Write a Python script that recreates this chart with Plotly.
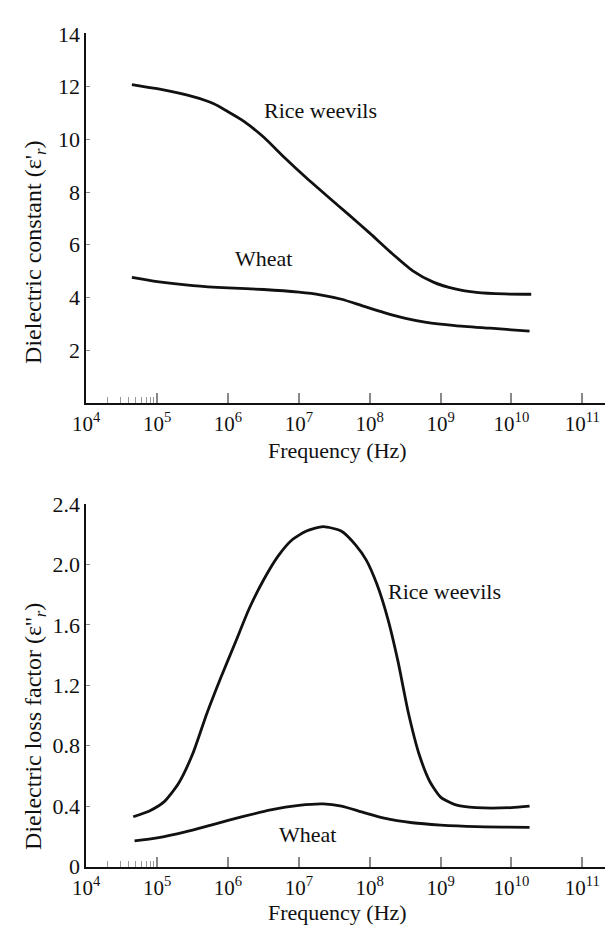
import plotly.graph_objects as go

# ---------------- data ----------------
# Top panel: dielectric constant
rw_const_f = [4.4e4, 1e5, 3.2e5, 6.3e5, 1e6, 1.6e6, 3.2e6, 6.3e6, 1.26e7, 2.5e7, 5e7, 1e8,
              2e8, 4e8, 7.9e8, 1.6e9, 3.2e9, 7.9e9, 1.9e10]
rw_const_v = [12.08, 11.92, 11.62, 11.35, 11.05, 10.72, 10.08, 9.3, 8.55, 7.85, 7.15, 6.44,
              5.7, 5.02, 4.58, 4.32, 4.19, 4.13, 4.12]
wh_const_f = [4.4e4, 1e5, 3.2e5, 1e6, 3.2e6, 1e7, 2e7, 4e7, 7.9e7, 1.6e8, 3.2e8, 6.3e8,
              1.6e9, 5e9, 1.8e10]
wh_const_v = [4.76, 4.6, 4.45, 4.36, 4.3, 4.2, 4.1, 3.93, 3.68, 3.42, 3.2, 3.05,
              2.93, 2.83, 2.72]

# Bottom panel: dielectric loss factor
rw_loss_f = [4.6e4, 7.9e4, 1.26e5, 2e5, 3.2e5, 5e5, 7.9e5, 1.26e6, 2e6, 3.2e6, 5e6, 7.9e6,
             1.26e7, 2.2e7, 4e7, 6.3e7, 8.9e7, 1.26e8, 1.8e8, 2.5e8, 3.5e8, 5e8, 7.1e8,
             1e9, 1.6e9, 3.2e9, 1e10, 1.8e10]
rw_loss_v = [0.33, 0.37, 0.43, 0.55, 0.75, 1.01, 1.25, 1.48, 1.71, 1.9, 2.05, 2.16,
             2.22, 2.25, 2.22, 2.13, 2.03, 1.87, 1.64, 1.36, 1.02, 0.74, 0.56,
             0.46, 0.41, 0.39, 0.39, 0.40]
wh_loss_f = [4.8e4, 1e5, 2.5e5, 6.3e5, 1.6e6, 4e6, 1e7, 2.2e7, 4e7, 7.9e7, 1.6e8, 4e8,
             1e9, 3.2e9, 1.8e10]
wh_loss_v = [0.17, 0.19, 0.23, 0.28, 0.33, 0.375, 0.405, 0.415, 0.40, 0.36, 0.32, 0.29,
             0.275, 0.265, 0.26]

x_tickvals = [1e4, 1e5, 1e6, 1e7, 1e8, 1e9, 1e10, 1e11]
x_ticktext = ["10<sup>4</sup>", "10<sup>5</sup>", "10<sup>6</sup>", "10<sup>7</sup>",
              "10<sup>8</sup>", "10<sup>9</sup>", "10<sup>10</sup>", "10<sup>11</sup>"]
x_minor = [2e4, 3e4, 4e4, 5e4, 6e4, 7e4, 8e4, 9e4]
y1_tickvals = [2, 4, 6, 8, 10, 12, 14]
y1_ticktext = ["2", "4", "6", "8", "10", "12", "14"]
y2_tickvals = [0, 0.4, 0.8, 1.2, 1.6, 2.0, 2.4]
y2_ticktext = ["0", "0.4", "0.8", "1.2", "1.6", "2.0", "2.4"]

# ---------------- figure ----------------
W, H = 605, 937
FONT = "Liberation Serif, Times New Roman, serif"
LINE = dict(color="#111111", width=2.8, shape="spline", smoothing=0.6)

fig = go.Figure()
fig.add_trace(go.Scatter(x=rw_const_f, y=rw_const_v, mode="lines", line=LINE, xaxis="x", yaxis="y", showlegend=False))
fig.add_trace(go.Scatter(x=wh_const_f, y=wh_const_v, mode="lines", line=LINE, xaxis="x", yaxis="y", showlegend=False))
fig.add_trace(go.Scatter(x=rw_loss_f, y=rw_loss_v, mode="lines", line=LINE, xaxis="x2", yaxis="y2", showlegend=False))
fig.add_trace(go.Scatter(x=wh_loss_f, y=wh_loss_v, mode="lines", line=LINE, xaxis="x2", yaxis="y2", showlegend=False))

def px_y(p):
    return (H - p) / H

xdom = [74 / W, 1.0]
xr = [4, 11.32]

def xaxis(anchor):
    return dict(
        type="log", range=xr, domain=xdom, anchor=anchor,
        tickvals=x_tickvals, ticktext=x_ticktext,
        ticks="inside", ticklen=10, tickwidth=1.5, tickcolor="#888888",
        minor=dict(tickvals=x_minor, ticks="inside", ticklen=6, tickwidth=1.2, tickcolor="#999999"),
        showline=True, linecolor="#111111", linewidth=2,
        showgrid=False, zeroline=False,
        tickfont=dict(family=FONT, size=21, color="#111111"),
        ticklabelstandoff=1,
    )

def yaxis(anchor, dom, rng, tv, tt):
    return dict(
        domain=dom, anchor=anchor, range=rng,
        tickvals=tv, ticktext=tt,
        ticks="inside", ticklen=4, tickwidth=1.2, tickcolor="#888888",
        showline=True, linecolor="#111111", linewidth=2,
        showgrid=False, zeroline=False,
        tickfont=dict(family=FONT, size=22, color="#111111"),
        ticklabelstandoff=0,
    )

fig.update_layout(
    width=W, height=H,
    margin=dict(l=0, r=0, t=0, b=0),
    paper_bgcolor="white", plot_bgcolor="white",
    font=dict(family=FONT, size=22, color="#111111"),
    xaxis=xaxis("y"),
    xaxis2=xaxis("y2"),
    yaxis=yaxis("x", [px_y(401.5), px_y(22.0)], [0, 14.02], y1_tickvals, y1_ticktext),
    yaxis2=yaxis("x2", [px_y(878), px_y(505.5)], [0, 2.4], y2_tickvals, y2_ticktext),
)

C = dict(xanchor="center", yanchor="middle", showarrow=False)
TF = dict(family=FONT, size=22)
ann = []
# axis titles
ann.append(dict(text="Frequency (Hz)", xref="paper", yref="paper", x=331 / W, y=px_y(451), font=TF, **C))
ann.append(dict(text="Frequency (Hz)", xref="paper", yref="paper", x=331 / W, y=0.0, yshift=-3, font=TF,
                xanchor="center", yanchor="bottom", showarrow=False))
ann.append(dict(text="Dielectric constant (ε'<sub><i>r</i></sub>)", xref="paper", yref="paper",
                x=22 / W, y=px_y(246), textangle=-90, font=dict(family=FONT, size=24), **C))
ann.append(dict(text="Dielectric loss factor (ε''<sub><i>r</i></sub>)", xref="paper", yref="paper",
                x=22 / W, y=px_y(734), textangle=-90, font=dict(family=FONT, size=24), **C))
# curve labels (annotation x on log axes is given in log10 units)
LF = dict(family=FONT, size=22)
ann.append(dict(text="Rice weevils", xref="x", yref="y", x=7.31, y=11.1, font=LF, **C))
ann.append(dict(text="Wheat", xref="x", yref="y", x=6.50, y=5.49, font=LF, **C))
ann.append(dict(text="Rice weevils", xref="x2", yref="y2", x=9.06, y=1.82, font=LF, **C))
ann.append(dict(text="Wheat", xref="x2", yref="y2", x=7.12, y=0.21, font=LF, **C))
fig.update_layout(annotations=ann)

fig.write_html("out.html")
